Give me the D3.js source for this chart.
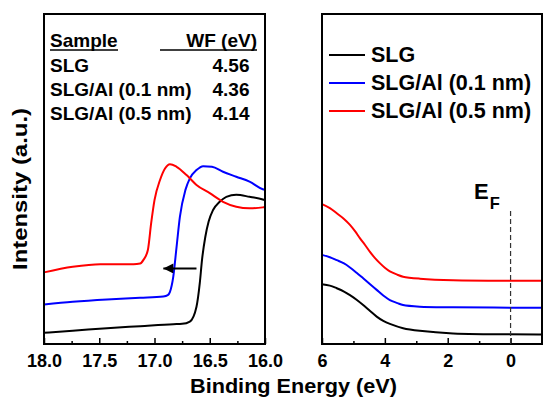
<!DOCTYPE html>
<html>
<head>
<meta charset="utf-8">
<script src="https://cdn.jsdelivr.net/npm/d3@7"></script>
<style>
  body { margin: 0; background: #fff; }
  svg { display: block; }
  text { font-family: "Liberation Sans", Arial, sans-serif; font-weight: bold; fill: #000; }
  .axis .tick line { stroke: #000; stroke-width: 1.5; }
  .axis .tick text { font-size: 18px; }
</style>
</head>
<body>
<svg id="chart"></svg>
<script>
// ---- data (binding energy in eV, intensity in arbitrary units 0-100) ----
const seriesNames = ["SLG", "SLG/Al (0.1 nm)", "SLG/Al (0.5 nm)"];
const seriesColors = ["#000000", "#0000ff", "#ff0000"];

// secondary electron cutoff region
const cutoffSLG = [
  [18.0, 3.4], [17.74, 4.0], [17.43, 4.8], [17.13, 5.4], [16.83, 6.0], [16.75, 6.1],
  [16.68, 6.8], [16.62, 11.3], [16.59, 18.5], [16.57, 25.5], [16.54, 32.5], [16.51, 37.1],
  [16.47, 40.6], [16.41, 43.1], [16.35, 44.6], [16.26, 45.2], [16.14, 44.6], [16.02, 43.8], [16.0, 43.6]
];
const cutoffAl01 = [
  [18.0, 12.0], [17.74, 12.8], [17.43, 13.5], [17.13, 14.0], [16.92, 14.4], [16.88, 14.8],
  [16.86, 15.8], [16.83, 20.4], [16.80, 29.5], [16.77, 38.6], [16.72, 46.7], [16.68, 50.2],
  [16.62, 52.7], [16.56, 53.9], [16.48, 53.7], [16.38, 52.2], [16.26, 50.7], [16.14, 49.2],
  [16.02, 46.9], [16.0, 46.7]
];
const cutoffAl05 = [
  [18.0, 21.7], [17.74, 23.4], [17.49, 24.2], [17.19, 24.2], [17.13, 24.4], [17.10, 25.5],
  [17.06, 28.5], [17.03, 36.7], [17.0, 43.6], [16.95, 49.7], [16.905, 53.2], [16.86, 54.5],
  [16.80, 53.7], [16.71, 51.2], [16.62, 48.2], [16.50, 45.7], [16.38, 43.1], [16.26, 41.6],
  [16.14, 41.1], [16.02, 41.4], [16.0, 41.5]
];

// valence band region
const valenceSLG = [
  [6.0, 18.1], [5.75, 17.7], [5.53, 16.9], [5.3, 15.9], [5.11, 14.8], [4.9, 13.4],
  [4.69, 11.8], [4.47, 10.0], [4.26, 8.3], [4.05, 7.0], [3.84, 6.1], [3.42, 4.8],
  [2.89, 4.0], [1.83, 3.2], [-1.0, 2.9]
];
const valenceAl01 = [
  [6.0, 27.0], [5.75, 26.3], [5.53, 25.4], [5.3, 24.4], [5.11, 23.2], [4.9, 21.6],
  [4.69, 19.9], [4.47, 18.1], [4.26, 16.4], [4.05, 14.7], [3.84, 13.3], [3.6, 12.4],
  [3.42, 11.8], [2.89, 11.3], [1.83, 11.1], [-1.0, 11.0]
];
const valenceAl05 = [
  [6.0, 42.4], [5.75, 41.2], [5.53, 39.6], [5.3, 37.9], [5.11, 36.1], [4.95, 34.2],
  [4.79, 32.0], [4.63, 30.0], [4.48, 28.0], [4.32, 26.1], [4.16, 24.5], [4.0, 23.1],
  [3.84, 22.0], [3.6, 21.0], [3.42, 20.4], [2.89, 19.8], [1.83, 19.3], [-1.0, 19.2]
];

// work function table
const tableSamples = ["SLG", "SLG/Al (0.1 nm)", "SLG/Al (0.5 nm)"];
const tableWF = ["4.56", "4.36", "4.14"];

// ticks
const leftMajorTicks = [18.0, 17.5, 17.0, 16.5, 16.0];
const leftMinorTicks = [17.75, 17.25, 16.75, 16.25];
const rightMajorTicks = [6, 4, 2, 0];
const rightMinorTicks = [5, 3, 1];

// shift arrow (from, to energy; intensity) and Fermi level
const arrowEnergies = [16.62, 16.92];
const arrowIntensity = 22.9;
const fermiEnergy = 0;
const fermiTop = 40.3;

// ---- layout ----
const width = 543, height = 398;
const plotTop = 14, plotBottom = 344;

const svg = d3.select("#chart").attr("width", width).attr("height", height);

const yScale = d3.scaleLinear().domain([0, 100]).range([plotBottom, plotTop]);
const xLeft = d3.scaleLinear().domain([18, 16]).range([44, 265]);
const xRight = d3.scaleLinear().domain([6, -1]).range([322, 542]);

function drawPanel(xScale, majors, minors, fmt, series, curve) {
  const g = svg.append("g");

  const axisMajor = d3.axisBottom(xScale).tickValues(majors).tickSize(-6).tickPadding(10).tickFormat(fmt);
  const axisMinor = d3.axisBottom(xScale).tickValues(minors).tickSize(-3).tickFormat("");

  g.append("g").attr("class", "axis").attr("transform", `translate(0,${plotBottom})`)
    .call(axisMajor).call(a => a.select(".domain").remove());
  g.append("g").attr("class", "axis").attr("transform", `translate(0,${plotBottom})`)
    .call(axisMinor).call(a => a.select(".domain").remove());

  const line = d3.line()
    .x(d => xScale(d[0]))
    .y(d => yScale(d[1]))
    .curve(curve);

  series.forEach((s, i) => {
    g.append("path")
      .attr("d", line(s))
      .attr("fill", "none")
      .attr("stroke", seriesColors[i])
      .attr("stroke-width", 2);
  });

  const [x0, x1] = xScale.range();
  g.append("rect")
    .attr("x", x0).attr("y", plotTop)
    .attr("width", x1 - x0).attr("height", plotBottom - plotTop)
    .attr("fill", "none").attr("stroke", "#000").attr("stroke-width", 2);
  return g;
}

drawPanel(xLeft, leftMajorTicks, leftMinorTicks, d3.format(".1f"),
  [cutoffSLG, cutoffAl01, cutoffAl05], d3.curveMonotoneX);
drawPanel(xRight, rightMajorTicks, rightMinorTicks, d3.format("d"),
  [valenceSLG, valenceAl01, valenceAl05], d3.curveCatmullRom.alpha(0.5));

// arrow
svg.append("defs").append("marker")
  .attr("id", "arrowhead")
  .attr("viewBox", "0 0 10 10")
  .attr("refX", 10).attr("refY", 5)
  .attr("markerWidth", 8).attr("markerHeight", 5)
  .attr("markerUnits", "strokeWidth")
  .attr("orient", "auto")
  .append("path").attr("d", "M0,0L10,5L0,10Z").attr("fill", "#000");

svg.append("line")
  .attr("x1", xLeft(arrowEnergies[0])).attr("x2", xLeft(arrowEnergies[1]))
  .attr("y1", yScale(arrowIntensity)).attr("y2", yScale(arrowIntensity))
  .attr("stroke", "#000").attr("stroke-width", 2)
  .attr("marker-end", "url(#arrowhead)");

// table
const tbl = svg.append("g").style("font-size", "19px");
tbl.append("text").attr("x", 50).attr("y", 46.5).text("Sample");
tbl.append("text").attr("x", 257).attr("y", 46.5).attr("text-anchor", "end").text("WF (eV)");
tbl.append("line").attr("x1", 50).attr("x2", 118).attr("y1", 50).attr("y2", 50)
  .attr("stroke", "#000").attr("stroke-width", 1.5);
tbl.append("line").attr("x1", 160).attr("x2", 257).attr("y1", 50).attr("y2", 50)
  .attr("stroke", "#000").attr("stroke-width", 1.5);
tableSamples.forEach((s, i) => {
  const y = 71.5 + i * 24.3;
  tbl.append("text").attr("x", 50).attr("y", y).text(s);
  tbl.append("text").attr("x", 249.5).attr("y", y).attr("text-anchor", "end").text(tableWF[i]);
});

// legend
const leg = svg.append("g").style("font-size", "21.5px");
seriesNames.forEach((name, i) => {
  const y = 55 + i * 28;
  leg.append("line").attr("x1", 329).attr("x2", 365).attr("y1", y).attr("y2", y)
    .attr("stroke", seriesColors[i]).attr("stroke-width", 2);
  leg.append("text").attr("x", 371).attr("y", y + 7).text(name);
});

// Fermi level
svg.append("line")
  .attr("x1", xRight(fermiEnergy)).attr("x2", xRight(fermiEnergy))
  .attr("y1", yScale(fermiTop)).attr("y2", plotBottom)
  .attr("stroke", "#333").attr("stroke-width", 1.2)
  .attr("stroke-dasharray", "5,3");
const ef = svg.append("text").attr("x", 474).attr("y", 199).style("font-size", "22px");
ef.append("tspan").text("E");
ef.append("tspan").attr("dy", 9.5).attr("dx", 1).style("font-size", "16.5px").text("F");

// axis titles
svg.append("text")
  .attr("x", 293.5).attr("y", 393)
  .attr("text-anchor", "middle")
  .style("font-size", "20.5px")
  .attr("textLength", 207).attr("lengthAdjust", "spacingAndGlyphs")
  .text("Binding Energy (eV)");
svg.append("text")
  .attr("transform", "translate(27,189) rotate(-90)")
  .attr("text-anchor", "middle")
  .style("font-size", "20.5px")
  .attr("textLength", 162).attr("lengthAdjust", "spacingAndGlyphs")
  .text("Intensity (a.u.)");
</script>
</body>
</html>
